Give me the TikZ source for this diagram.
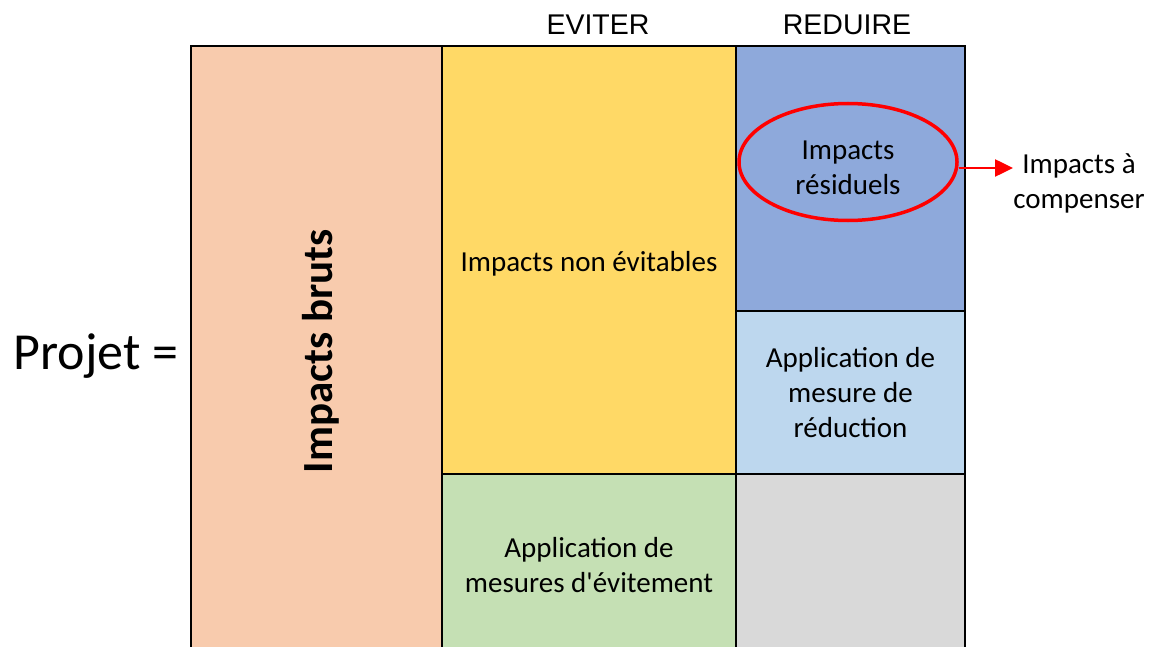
\documentclass[tikz,border=0pt]{standalone}
\usepackage{fontspec}
\setmainfont{Carlito}
\newfontfamily\arialfont{Liberation Sans}
\usetikzlibrary{shapes.geometric,arrows.meta}
\definecolor{peach}{HTML}{F8CBAD}
\definecolor{gold}{HTML}{FFD966}
\definecolor{steel}{HTML}{8EA9DB}
\definecolor{pale}{HTML}{BDD7EE}
\definecolor{sage}{HTML}{C5E0B4}
\definecolor{ash}{HTML}{D9D9D9}
\newcommand\txtbody{\fontsize{29}{35}\selectfont}
\begin{document}
\begin{tikzpicture}[x=1pt,y=-1pt,
  cell/.style={draw=black, line width=2pt, inner sep=0pt, outer sep=0pt,
    anchor=north west, align=center, font=\txtbody},
  body/.style={align=center, font=\txtbody, inner sep=0pt},
  head/.style={anchor=base, font=\arialfont\fontsize{28.5}{34}\selectfont},
  mark red/.style={draw=red, line width=3.5pt},
]
\useasboundingbox (0,0) rectangle (1153,647);
\clip (0,0) rectangle (1153,647);

% grid of cells
\node[cell, fill=peach, minimum width=251pt, minimum height=610pt] (brut) at (191,46) {};
\node[cell, fill=gold, minimum width=294pt, minimum height=428pt] (nonevit) at (442,46) {};
\node[cell, fill=sage, minimum width=294pt, minimum height=182pt] (evit) at (442,474) {Application de\\mesures d\textquotesingle évitement};
\node[cell, fill=steel, minimum width=229pt, minimum height=265pt] (resid) at (736,46) {};
\node[cell, fill=pale, minimum width=229pt, minimum height=163pt] (reduc) at (736,311) {Application de\\mesure de\\réduction};
\node[cell, fill=ash, minimum width=229pt, minimum height=182pt] (vide) at (736,474) {};

\node[body] (nonevitlbl) at (589,264) {Impacts non évitables};

% vertical label of the first column
\node[rotate=90, anchor=base, font=\bfseries\fontsize{43}{50}\selectfont] (brutlbl) at (332,351) {Impacts bruts};

% column headings
\node[head] (eviter) at (598,35) {EVITER};
\node[head] (reduire) at (847,35) {REDUIRE};

% left-hand label
\node[anchor=base, font=\fontsize{52}{60}\selectfont] (projet) at (96,369) {Projet =};

% residual impacts circled and sent to compensation
\node[ellipse, mark red, minimum width=218pt, minimum height=117pt, inner sep=0pt] (res) at (848,162) {};
\node[body] (reslbl) at (848,168) {Impacts\\résiduels};
\coordinate (tip) at (1013,168);
\draw[red, line width=2.5pt, -{Triangle[length=18pt,width=17pt]}] (res.east |- tip) -- (tip);
\node[body] (comp) at (1079,183) {Impacts à\\compenser};
\end{tikzpicture}
\end{document}
